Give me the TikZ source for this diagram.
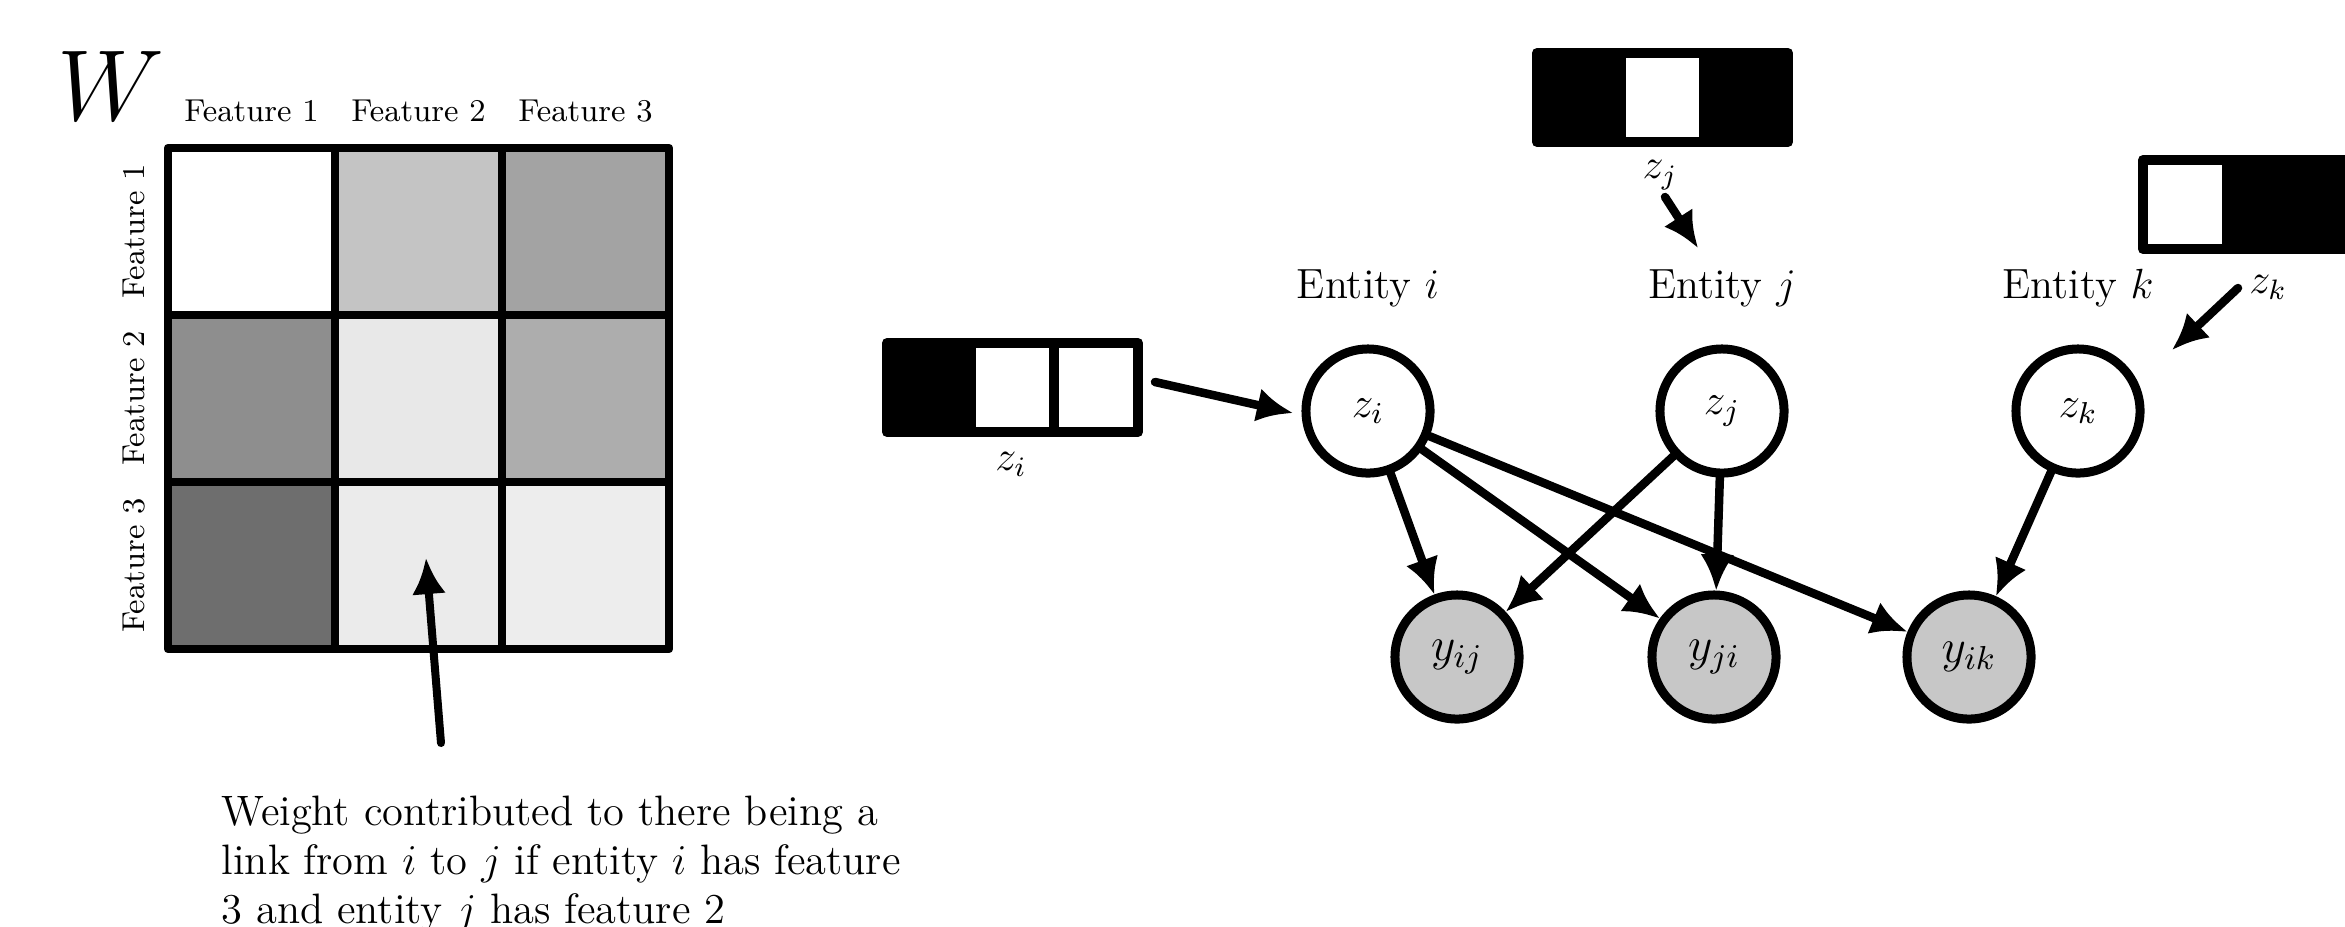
\RequirePackage{fix-cm}
\documentclass[tikz,border=0pt]{standalone}
\usepackage{fontspec}
\usetikzlibrary{arrows.meta}
\definecolor{gA}{gray}{0.77}
\definecolor{gB}{gray}{0.64}
\definecolor{gC}{gray}{0.557}
\definecolor{gD}{gray}{0.91}
\definecolor{gE}{gray}{0.68}
\definecolor{gF}{gray}{0.43}
\definecolor{gG}{gray}{0.92}
\definecolor{gH}{gray}{0.93}
\definecolor{obsgray}{gray}{0.78}
\begin{document}
\begin{tikzpicture}[x=0.01cm,y=-0.01cm,
  cell/.style={draw, line width=0.085cm, minimum size=1.67cm, inner sep=0pt, line join=round},
  vcell/.style={draw, line width=0.1cm, minimum width=0.837cm, minimum height=0.89cm, inner sep=0pt, line join=round},
  var/.style={circle, draw, fill=white, line width=0.09cm, minimum size=1.24cm, inner sep=0pt, font=\fontsize{12.3}{14}\selectfont},
  obs/.style={var, fill=obsgray, font=\fontsize{13.5}{16}\selectfont},
  arr/.style={line width=0.085cm, line cap=round, -{Latex[length=0.36cm,width=0.34cm]}},
  lbl/.style={inner sep=0pt, font=\fontsize{12}{14}\selectfont},
  flbl/.style={inner sep=0pt, font=\fontsize{9}{11}\selectfont}]
\useasboundingbox (0,0) rectangle (2345,926);
\clip (0,0) rectangle (2345,926);

% ---- W matrix ----
\node[inner sep=0pt, anchor=base west, font=\fontsize{28.7}{34}\selectfont] (W) at (57,120) {$W$};
\node[flbl, anchor=base] (t1) at (251.5,121) {Feature 1};
\node[flbl, anchor=base] (t2) at (418.5,121) {Feature 2};
\node[flbl, anchor=base] (t3) at (585.5,121) {Feature 3};
\node[flbl, anchor=base, rotate=90] (s1) at (144,231.5) {Feature 1};
\node[flbl, anchor=base, rotate=90] (s2) at (144,398.5) {Feature 2};
\node[flbl, anchor=base, rotate=90] (s3) at (144,565.5) {Feature 3};

\node[cell, fill=white] (c11) at (251.5,231.5) {};
\node[cell, fill=gA] (c12) at (418.5,231.5) {};
\node[cell, fill=gB] (c13) at (585.5,231.5) {};
\node[cell, fill=gC] (c21) at (251.5,398.5) {};
\node[cell, fill=gD] (c22) at (418.5,398.5) {};
\node[cell, fill=gE] (c23) at (585.5,398.5) {};
\node[cell, fill=gF] (c31) at (251.5,565.5) {};
\node[cell, fill=gG] (c32) at (418.5,565.5) {};
\node[cell, fill=gH] (c33) at (585.5,565.5) {};

\coordinate (wa0) at (441,743);
\coordinate (wa1) at (426,558);
\draw[arr, line width=0.08cm] (wa0) -- (wa1);

\node[inner sep=0pt, anchor=north west, align=left, font=\fontsize{12.1}{13.9}\selectfont] (note) at (221,795)
 {Weight contributed to there being a\\
  link from $i$ to $j$ if entity $i$ has feature\\
  3 and entity $j$ has feature 2};

% ---- feature vectors ----
\node[vcell, fill=black] (zia) at (928.8,387.5) {};
\node[vcell, fill=white] (zib) at (1012.5,387.5) {};
\node[vcell, fill=white] (zic) at (1096.2,387.5) {};
\node[lbl, anchor=base] (zil) at (1011,470) {$z_i$};

\node[vcell, fill=black] (zja) at (1578.8,97.5) {};
\node[vcell, fill=white] (zjb) at (1662.5,97.5) {};
\node[vcell, fill=black] (zjc) at (1746.2,97.5) {};
\node[lbl, anchor=base] (zjl) at (1660,178) {$z_j$};

\node[vcell, fill=white] (zka) at (2184.8,204.5) {};
\node[vcell, fill=black] (zkb) at (2268.5,204.5) {};
\node[vcell, fill=black] (zkc) at (2352.2,204.5) {};
\node[lbl, anchor=base] (zkl) at (2268,293) {$z_k$};

% ---- graphical model ----
\node[lbl, anchor=base] (ei) at (1368,298) {Entity $i$};
\node[lbl, anchor=base] (ej) at (1722,298) {Entity $j$};
\node[lbl, anchor=base] (ek) at (2078,298) {Entity $k$};

\node[var] (zi) at (1368,411) {$z_i$};
\node[var] (zj) at (1722,411) {$z_j$};
\node[var] (zk) at (2078,411) {$z_k$};

\node[obs] (yij) at (1457,657) {$y_{ij}$};
\node[obs] (yji) at (1714,657) {$y_{ji}$};
\node[obs] (yik) at (1969,657) {$y_{ik}$};

\draw[arr] (zi) -- (yij);
\draw[arr] (zi) -- (yji);
\draw[arr] (zi) -- (yik);
\draw[arr] (zj) -- (yij);
\draw[arr] (zj) -- (yji);
\draw[arr] (zk) -- (yik);

\coordinate (ia0) at (1155,382);
\coordinate (ia1) at (1293,413);
\draw[arr] (ia0) -- (ia1);
\coordinate (ja0) at (1665,197);
\coordinate (ja1) at (1698,248);
\draw[arr] (ja0) -- (ja1);
\coordinate (ka0) at (2238,288);
\coordinate (ka1) at (2172,350);
\draw[arr] (ka0) -- (ka1);
\end{tikzpicture}
\end{document}
